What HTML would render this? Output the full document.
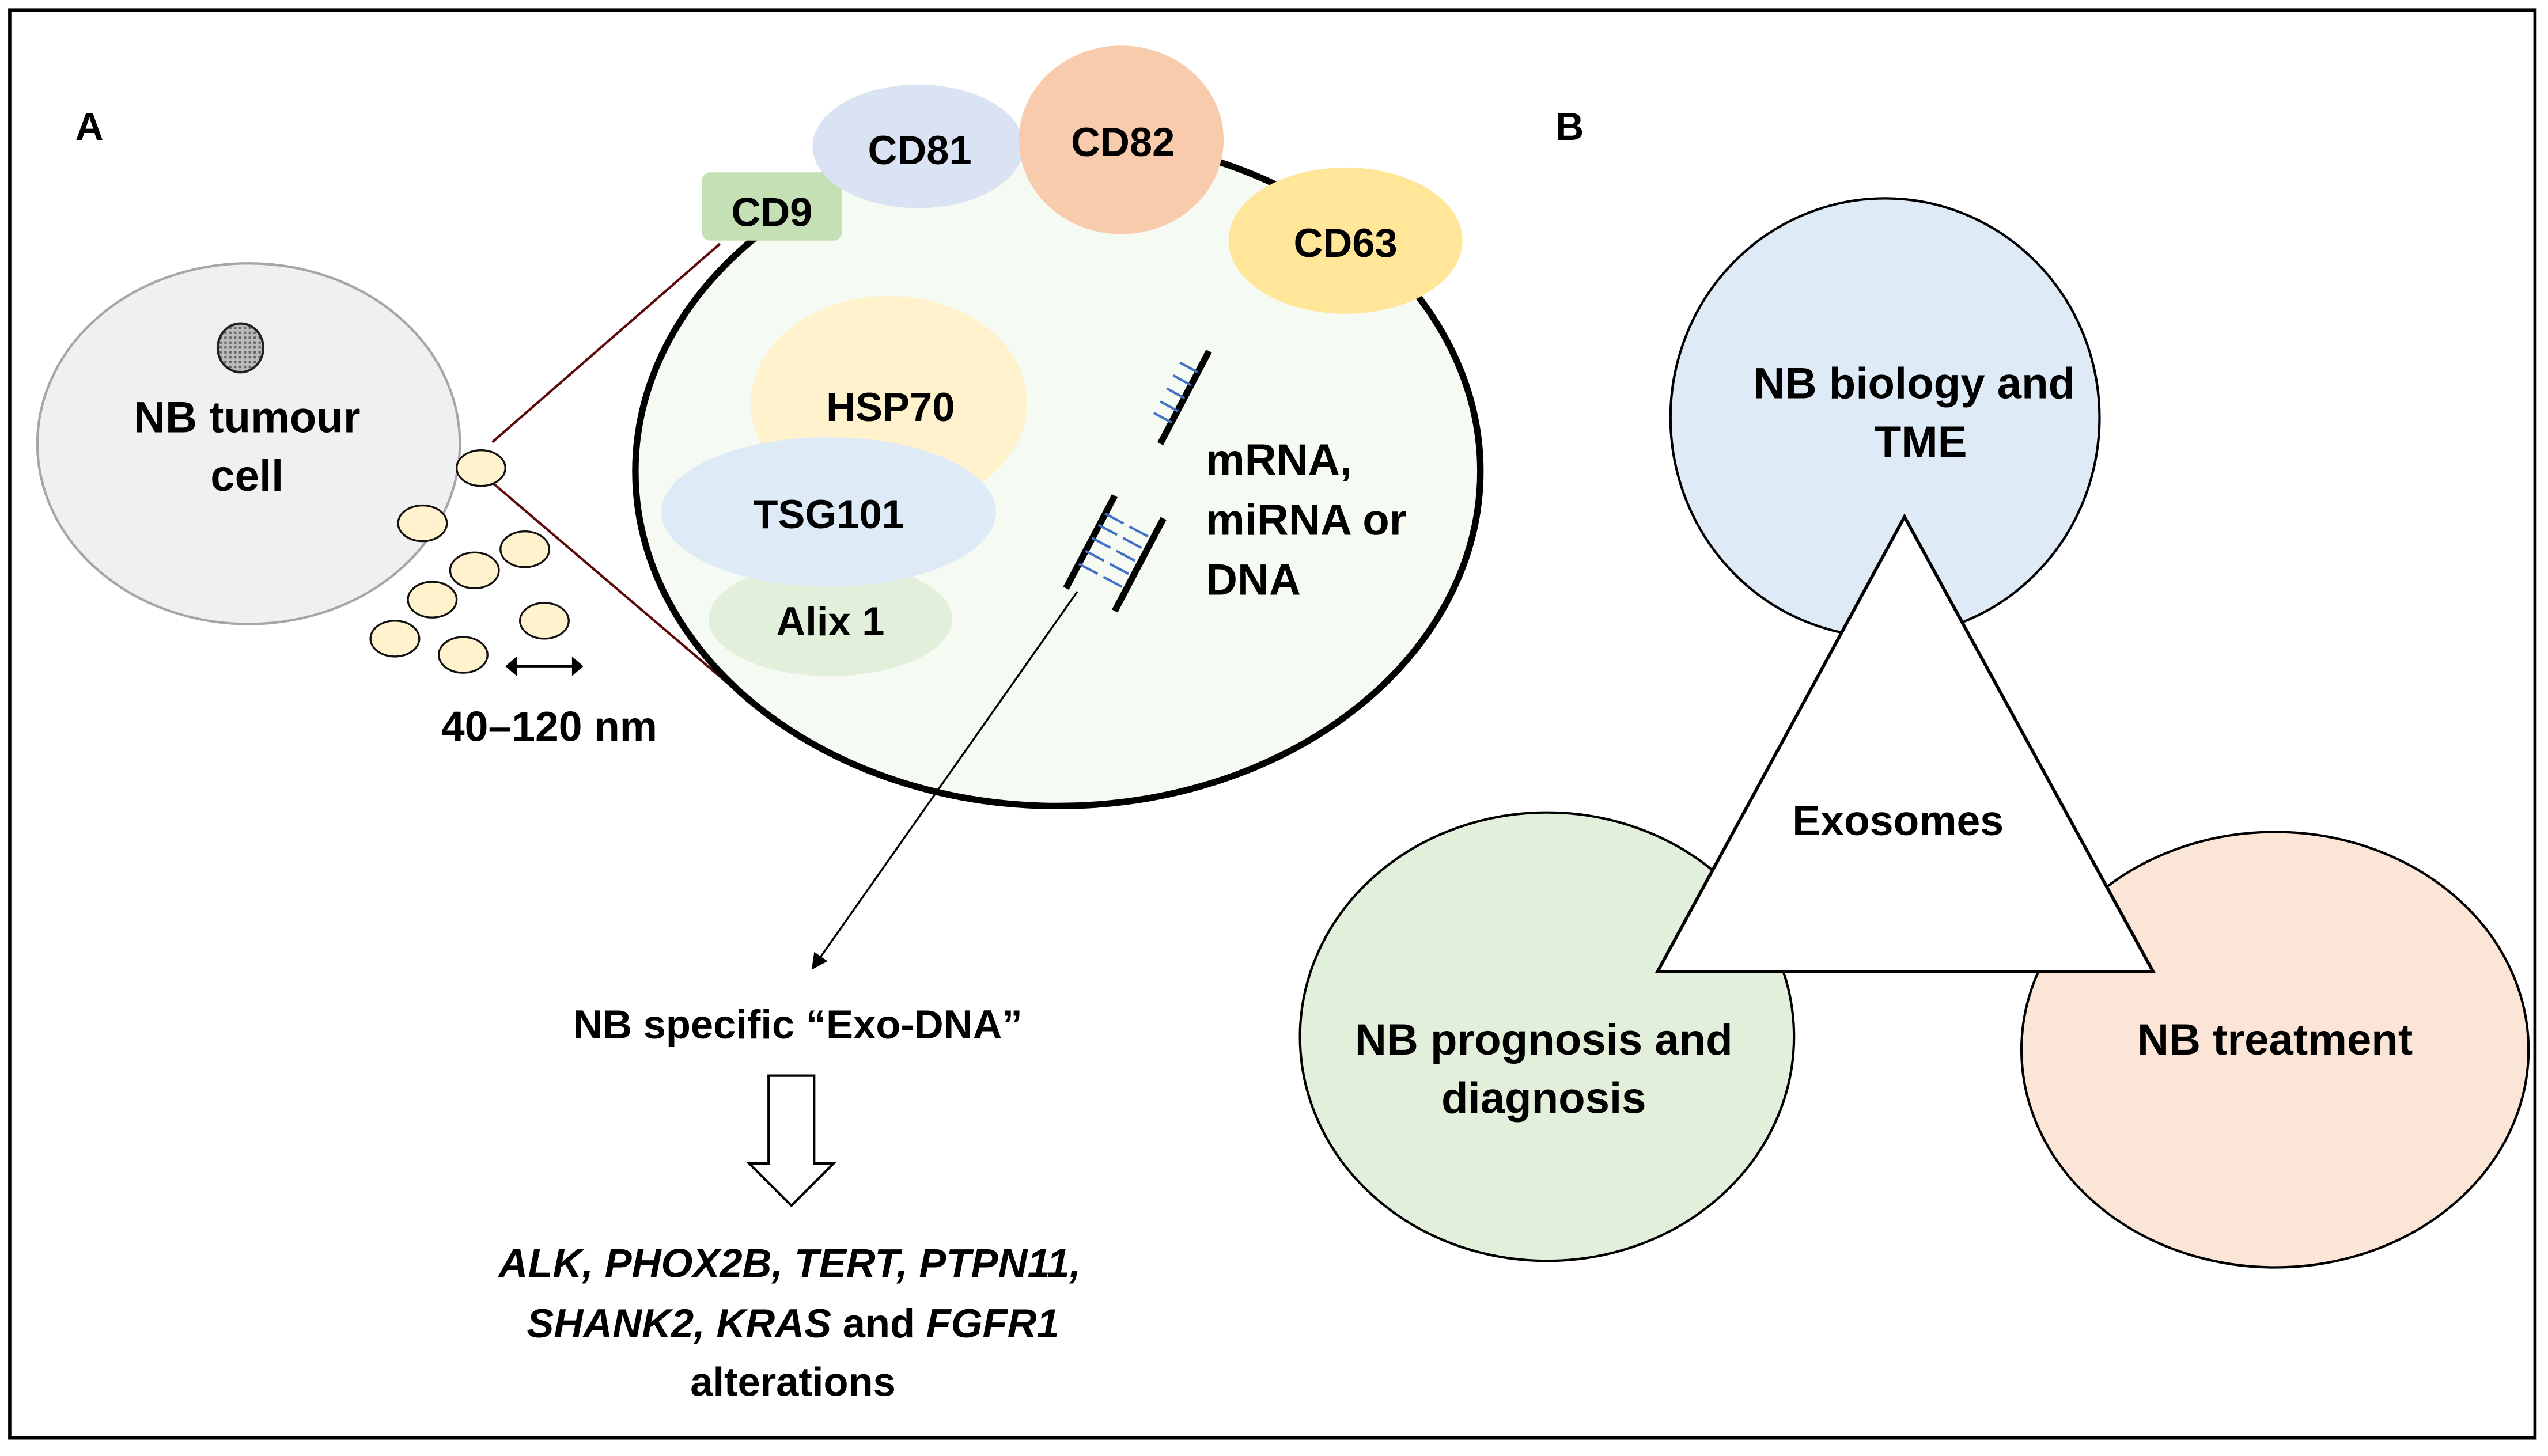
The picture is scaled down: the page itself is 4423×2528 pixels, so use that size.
<!DOCTYPE html>
<html><head><meta charset="utf-8"><style>
html,body{margin:0;padding:0;background:#fff;}
svg{display:block;}
text{font-family:"Liberation Sans",sans-serif;font-weight:bold;fill:#000;}
</style></head><body>
<svg width="4423" height="2528" viewBox="0 0 1568 896" xmlns="http://www.w3.org/2000/svg">
<defs>
<marker id="ah" markerWidth="10" markerHeight="10" refX="9" refY="5" orient="auto" markerUnits="userSpaceOnUse"><path d="M0,0 L10,5 L0,10 z" fill="#000"/></marker>
<pattern id="dots" width="3" height="3" patternUnits="userSpaceOnUse"><rect width="3" height="3" fill="#bbb"/><rect width="1.5" height="1.5" fill="#666"/></pattern>
</defs>
<rect x="0" y="0" width="1568" height="896" fill="#fff"/>
<rect x="6" y="6" width="1554" height="879" fill="none" stroke="#000" stroke-width="2"/>
<text x="55" y="86" font-size="24" text-anchor="middle">A</text>
<text x="966" y="86" font-size="24" text-anchor="middle">B</text>

<!-- tumour cell -->
<ellipse cx="153" cy="273" rx="130" ry="111" fill="#f0f0f0" stroke="#a6a6a6" stroke-width="1.5"/>
<ellipse cx="148" cy="214" rx="14" ry="15" fill="url(#dots)" stroke="#222" stroke-width="1.5"/>
<text x="152" y="266" font-size="27" text-anchor="middle">NB tumour</text>
<text x="152" y="302" font-size="27" text-anchor="middle">cell</text>

<line x1="303" y1="272" x2="443" y2="150" stroke="#5c0a0a" stroke-width="1.5"/>
<line x1="303" y1="297" x2="452" y2="424" stroke="#5c0a0a" stroke-width="1.5"/>

<g fill="#fff2cc" stroke="#111" stroke-width="1.2">
<ellipse cx="296" cy="288" rx="15" ry="11"/>
<ellipse cx="260" cy="322" rx="15" ry="11"/>
<ellipse cx="323" cy="338" rx="15" ry="11"/>
<ellipse cx="292" cy="351" rx="15" ry="11"/>
<ellipse cx="266" cy="369" rx="15" ry="11"/>
<ellipse cx="335" cy="382" rx="15" ry="11"/>
<ellipse cx="243" cy="393" rx="15" ry="11"/>
<ellipse cx="285" cy="403" rx="15" ry="11"/>
</g>
<line x1="318" y1="410" x2="352" y2="410" stroke="#000" stroke-width="1.5"/>
<path d="M311,410 L318,404 L318,416 z M359,410 L352,404 L352,416 z" fill="#000"/>
<text x="338" y="456" font-size="26" text-anchor="middle">40–120 nm</text>

<!-- exosome -->
<ellipse cx="651" cy="290" rx="260" ry="206" fill="#f5faf2" stroke="#000" stroke-width="4"/>
<rect x="432" y="106" width="86" height="42" rx="5" fill="#c5e0b4"/>
<text x="475" y="139" font-size="25" text-anchor="middle">CD9</text>
<ellipse cx="565" cy="90" rx="65" ry="38" fill="#dae3f3"/>
<text x="566" y="101" font-size="25" text-anchor="middle">CD81</text>
<ellipse cx="690" cy="86" rx="63" ry="58" fill="#f8cbad"/>
<text x="691" y="96" font-size="25" text-anchor="middle">CD82</text>
<ellipse cx="828" cy="148" rx="72" ry="45" fill="#ffe699"/>
<text x="828" y="158" font-size="25" text-anchor="middle">CD63</text>

<ellipse cx="547" cy="248" rx="85" ry="66" fill="#fff2cc"/>
<text x="548" y="259" font-size="25" text-anchor="middle">HSP70</text>
<ellipse cx="511" cy="381" rx="75" ry="35" fill="#e2efda"/>
<text x="511" y="391" font-size="25" text-anchor="middle">Alix 1</text>
<ellipse cx="510" cy="315" rx="103" ry="46" fill="#deebf7"/>
<text x="510" y="325" font-size="25" text-anchor="middle">TSG101</text>

<!-- nucleic acids -->
<g stroke="#000" stroke-width="4">
<line x1="744" y1="216" x2="714" y2="273"/>
<line x1="686" y1="305" x2="656" y2="362"/>
<line x1="716" y1="319" x2="686" y2="376"/>
</g>
<g stroke="#4472c4" stroke-width="1.5">
<line x1="737" y1="229" x2="726" y2="223"/>
<line x1="733" y1="237" x2="722" y2="231"/>
<line x1="729" y1="245" x2="718" y2="239"/>
<line x1="725" y1="253" x2="714" y2="247"/>
<line x1="721" y1="260" x2="710" y2="254"/>
<line x1="680" y1="316" x2="710" y2="332" stroke-dasharray="13,4"/>
<line x1="676" y1="323" x2="706" y2="339" stroke-dasharray="13,4"/>
<line x1="672" y1="331" x2="702" y2="347" stroke-dasharray="13,4"/>
<line x1="668" y1="339" x2="698" y2="355" stroke-dasharray="13,4"/>
<line x1="664" y1="347" x2="694" y2="363" stroke-dasharray="13,4"/>
</g>
<text x="742" y="292" font-size="27">mRNA,</text>
<text x="742" y="329" font-size="27">miRNA or</text>
<text x="742" y="366" font-size="27">DNA</text>

<line x1="663" y1="364" x2="500" y2="596" stroke="#000" stroke-width="1.2" marker-end="url(#ah)"/>
<text x="491" y="639" font-size="25" text-anchor="middle">NB specific “Exo-DNA”</text>
<path d="M473,662 L501,662 L501,716 L513,716 L487,742 L461,716 L473,716 z" fill="#fff" stroke="#000" stroke-width="1.5"/>
<text x="486" y="786" font-size="25" text-anchor="middle" font-style="italic">ALK, PHOX2B, TERT, PTPN11,</text>
<text x="488" y="823" font-size="25" text-anchor="middle"><tspan font-style="italic">SHANK2, KRAS</tspan> and <tspan font-style="italic">FGFR1</tspan></text>
<text x="488" y="859" font-size="25" text-anchor="middle">alterations</text>

<!-- panel B -->
<ellipse cx="1160" cy="257" rx="132" ry="135" fill="#deebf7" stroke="#000" stroke-width="1.5"/>
<ellipse cx="952" cy="638" rx="152" ry="138" fill="#e2efda" stroke="#000" stroke-width="1.5"/>
<ellipse cx="1400" cy="646" rx="156" ry="134" fill="#fbe5d6" stroke="#000" stroke-width="1.5"/>
<polygon points="1172,318 1020,598 1325,598" fill="#fff" stroke="#000" stroke-width="2"/>
<text x="1178" y="245" font-size="27" text-anchor="middle">NB biology and</text>
<text x="1182" y="281" font-size="27" text-anchor="middle">TME</text>
<text x="1168" y="514" font-size="26" text-anchor="middle">Exosomes</text>
<text x="950" y="649" font-size="27" text-anchor="middle">NB prognosis and</text>
<text x="950" y="685" font-size="27" text-anchor="middle">diagnosis</text>
<text x="1400" y="649" font-size="27" text-anchor="middle">NB treatment</text>
</svg>
</body></html>
